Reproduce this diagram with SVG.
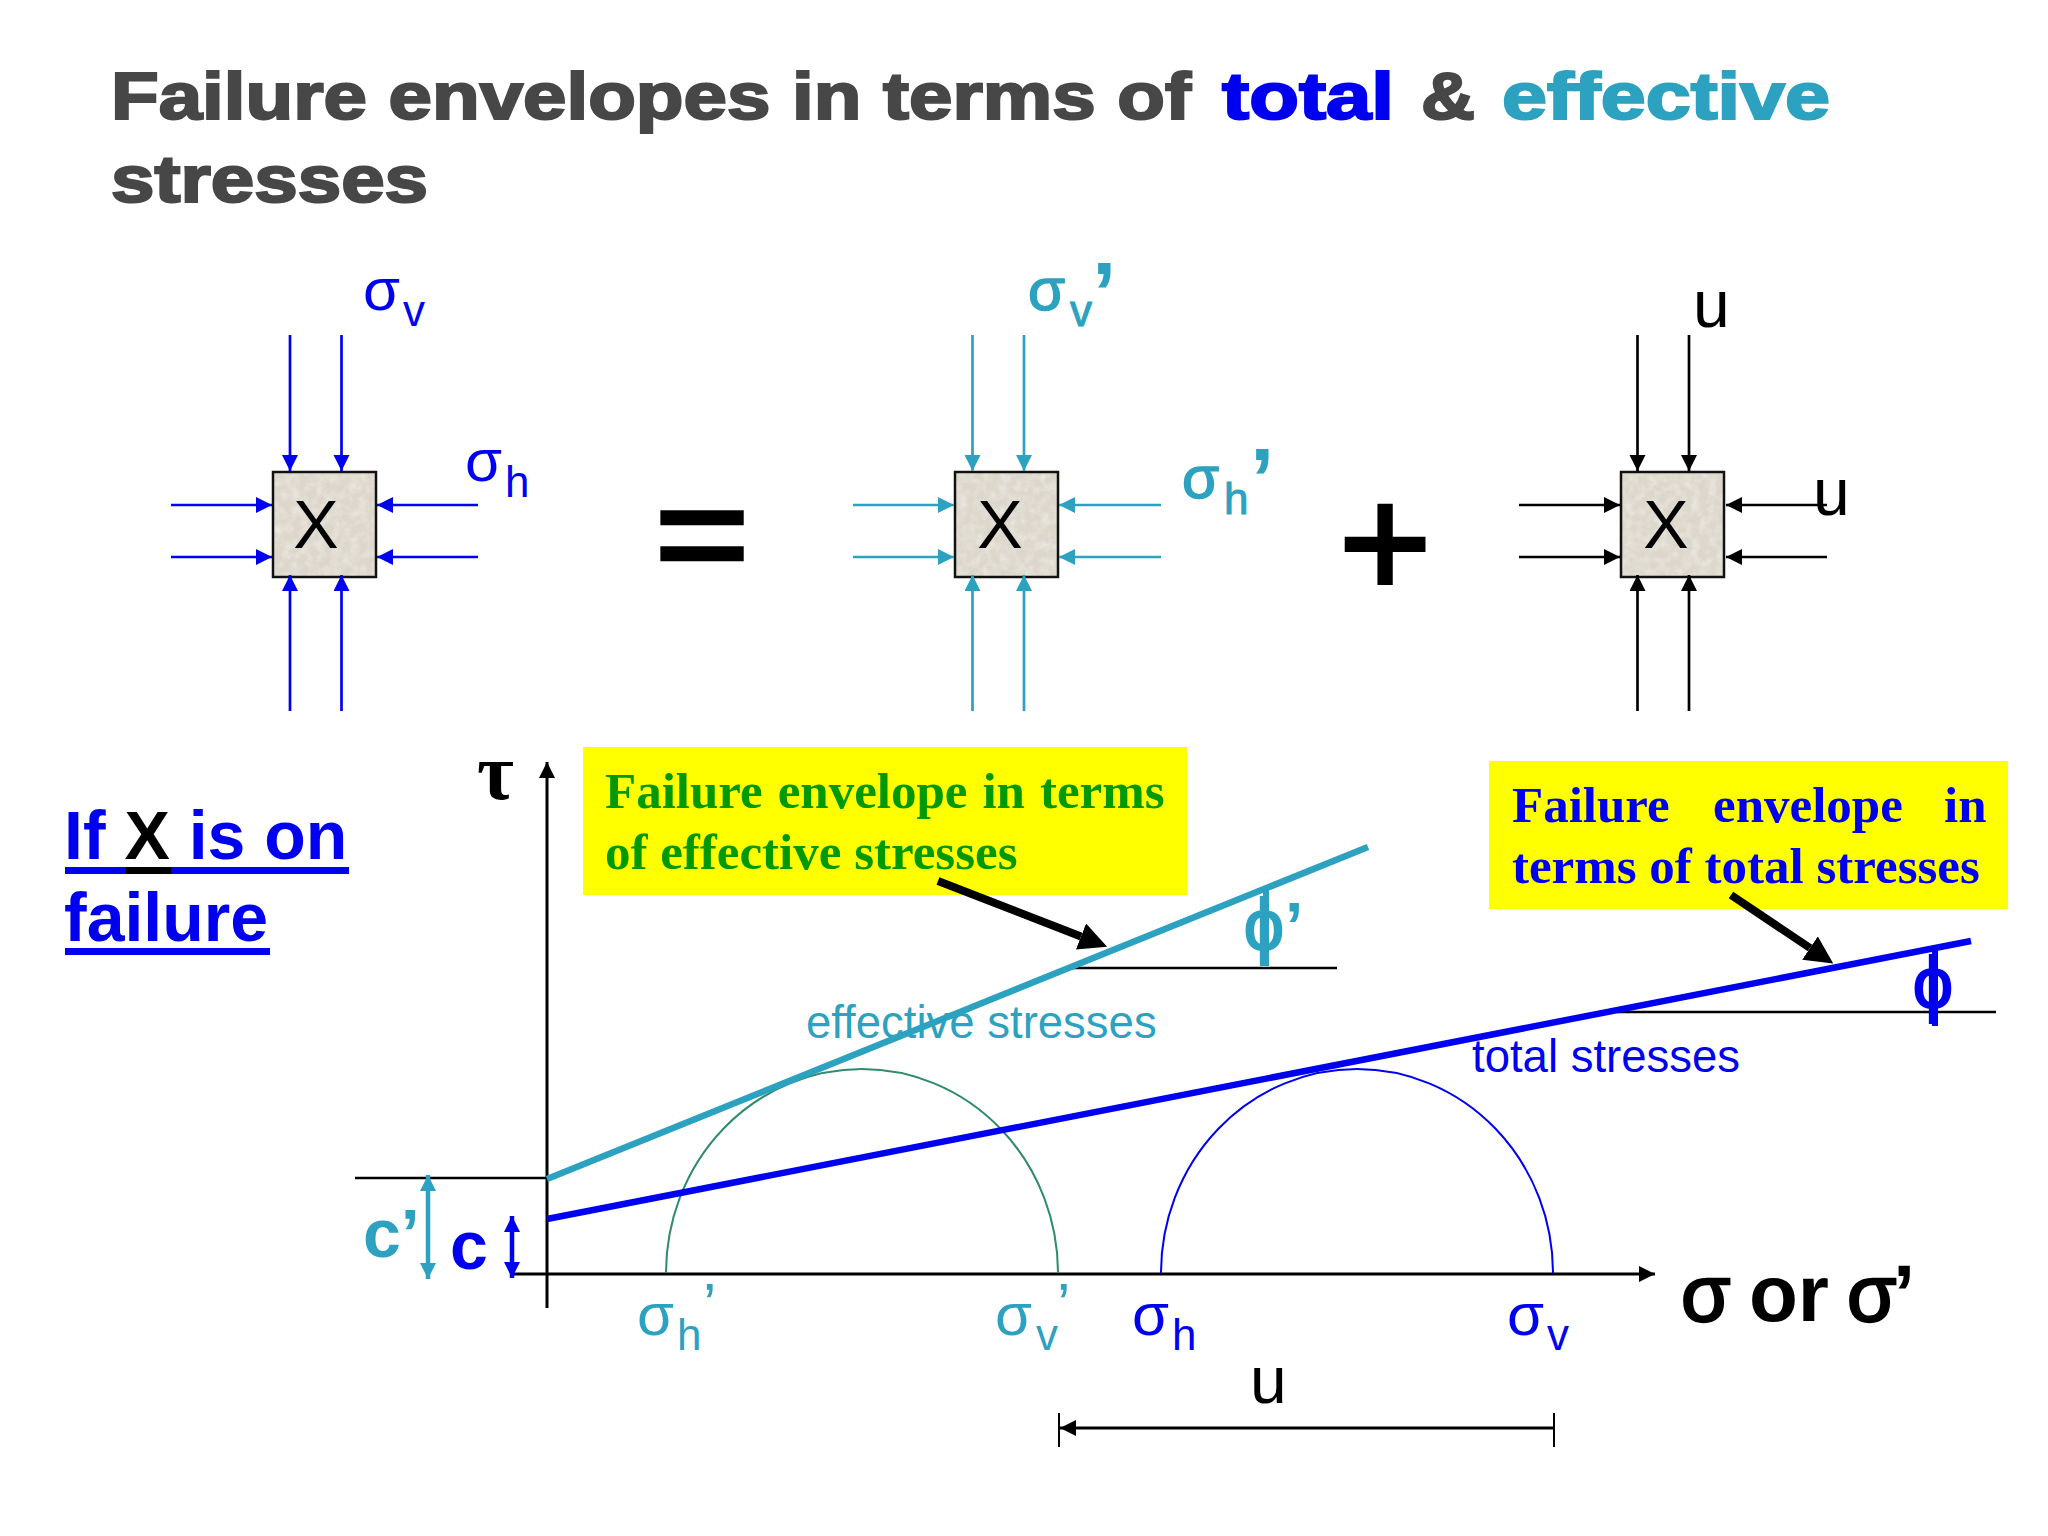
<svg xmlns="http://www.w3.org/2000/svg" width="2048" height="1536" viewBox="0 0 2048 1536">
<defs>
<style>
text{font-family:"Liberation Sans",Arial,sans-serif}
.title{font-size:66px;font-weight:700;stroke-width:2.2px;paint-order:stroke}
.gr{fill:#474747;stroke:#474747}.bl{fill:#0000f0}.te{fill:#2ca2c0}.bk{fill:#000}
.tb{stroke:#0000f0}.tt{stroke:#2ca2c0}
.sg{font-size:60px}.sb{font-size:44px}.pr{font-size:88px;font-weight:700}.pt{font-size:60px}
.x{font-size:68px;text-anchor:middle}
.u{font-size:66px}
.big{font-size:68px;font-weight:700}
.lbl{font-size:45.500px}
.cap{font-family:"Liberation Serif","Times New Roman",serif;font-size:51px;font-weight:700}
.blue{stroke:#0000f0;fill:none}.teal{stroke:#2ca2c0;fill:none}.black{stroke:#000;fill:none}
.a3{stroke-width:2.7px}
.fill{fill:#dcd7ca}
.box{fill:none;stroke:#111;stroke-width:2.5px}
</style>
<marker id="hb" markerUnits="userSpaceOnUse" markerWidth="18" markerHeight="18" refX="16" refY="8" orient="auto-start-reverse"><path d="M0 0L16 8L0 16Z" fill="#0000f0"/></marker>
<marker id="ht" markerUnits="userSpaceOnUse" markerWidth="18" markerHeight="18" refX="16" refY="8" orient="auto-start-reverse"><path d="M0 0L16 8L0 16Z" fill="#2ca2c0"/></marker>
<marker id="hk" markerUnits="userSpaceOnUse" markerWidth="18" markerHeight="18" refX="16" refY="8" orient="auto-start-reverse"><path d="M0 0L16 8L0 16Z" fill="#000"/></marker>
<marker id="hp" markerUnits="userSpaceOnUse" markerWidth="30" markerHeight="30" refX="0" refY="14" orient="auto"><path d="M0 0L28 14L0 28Z" fill="#000"/></marker>
<filter id="grain" x="0" y="0" width="1" height="1"><feTurbulence type="fractalNoise" baseFrequency="0.12" numOctaves="3" seed="4"/><feColorMatrix values="0 0 0 0 1  0 0 0 0 1  0 0 0 0 1  0.7 0 0 0 -0.25"/><feComposite in2="SourceGraphic" operator="in"/><feMerge><feMergeNode in="SourceGraphic"/><feMergeNode/></feMerge></filter>
</defs>
<rect width="2048" height="1536" fill="#fff"/>
<g id="title">
<text class="title gr" x="111" y="119" textLength="1080" lengthAdjust="spacingAndGlyphs">Failure envelopes in terms of</text>
<text class="title bl tb" x="1222" y="119" textLength="172" lengthAdjust="spacingAndGlyphs">total</text>
<text class="title gr" x="1421" y="119" textLength="54" lengthAdjust="spacingAndGlyphs">&amp;</text>
<text class="title te tt" x="1502" y="119" textLength="328" lengthAdjust="spacingAndGlyphs">effective</text>
<text class="title gr" x="111" y="202" textLength="317" lengthAdjust="spacingAndGlyphs">stresses</text>
</g>
<g id="element-total">
<rect class="fill" filter="url(#grain)" x="273" y="472" width="103" height="105"/><rect class="box" x="273" y="472" width="103" height="105"/>
<text class="x" x="316" y="548">X</text>
<g class="blue a3">
<line x1="290" y1="335" x2="290" y2="471" marker-end="url(#hb)"/><line x1="341.500" y1="335" x2="341.500" y2="471" marker-end="url(#hb)"/>
<line x1="290" y1="711" x2="290" y2="575" marker-end="url(#hb)"/><line x1="341.500" y1="711" x2="341.500" y2="575" marker-end="url(#hb)"/>
<line x1="171" y1="505" x2="272" y2="505" marker-end="url(#hb)"/><line x1="171" y1="557" x2="272" y2="557" marker-end="url(#hb)"/>
<line x1="478" y1="505" x2="377" y2="505" marker-end="url(#hb)"/><line x1="478" y1="557" x2="377" y2="557" marker-end="url(#hb)"/>
</g>
<text class="sg bl" x="363" y="310">σ</text><text class="sb bl" x="403" y="326">v</text>
<text class="sg bl" x="465" y="481">σ</text><text class="sb bl" x="505" y="497">h</text>
</g>
<text id="equals" class="bk" stroke="#000" stroke-width="4.500" transform="translate(655,583) scale(1.120,1)" x="0" y="0" font-size="144">=</text>
<g id="element-effective">
<rect class="fill" filter="url(#grain)" x="955" y="472" width="103" height="105"/><rect class="box" x="955" y="472" width="103" height="105"/>
<text class="x" x="1000" y="548">X</text>
<g class="teal a3">
<line x1="972.500" y1="335" x2="972.500" y2="471" marker-end="url(#ht)"/><line x1="1024" y1="335" x2="1024" y2="471" marker-end="url(#ht)"/>
<line x1="972.500" y1="711" x2="972.500" y2="575" marker-end="url(#ht)"/><line x1="1024" y1="711" x2="1024" y2="575" marker-end="url(#ht)"/>
<line x1="853" y1="505" x2="954" y2="505" marker-end="url(#ht)"/><line x1="853" y1="557" x2="954" y2="557" marker-end="url(#ht)"/>
<line x1="1161" y1="505" x2="1059" y2="505" marker-end="url(#ht)"/><line x1="1161" y1="557" x2="1059" y2="557" marker-end="url(#ht)"/>
</g>
<text class="sg te tt" stroke-width="1.5" x="1028" y="310">σ</text><text class="sb te tt" stroke-width="1" x="1070" y="326">v</text><text class="pr te" x="1092" y="323">’</text>
<text class="sg te tt" stroke-width="1.5" x="1182" y="498">σ</text><text class="sb te tt" stroke-width="1" x="1224" y="514">h</text><text class="pr te" x="1250" y="509">’</text>
</g>
<text id="plus" class="bk" stroke="#000" stroke-width="4" x="1339" y="597" font-size="158">+</text>
<g id="element-pore">
<rect class="fill" filter="url(#grain)" x="1621" y="472" width="103" height="105"/><rect class="box" x="1621" y="472" width="103" height="105"/>
<text class="x" x="1666" y="548">X</text>
<g class="black a3">
<line x1="1637.500" y1="335" x2="1637.500" y2="471" marker-end="url(#hk)"/><line x1="1689" y1="335" x2="1689" y2="471" marker-end="url(#hk)"/>
<line x1="1637.500" y1="711" x2="1637.500" y2="575" marker-end="url(#hk)"/><line x1="1689" y1="711" x2="1689" y2="575" marker-end="url(#hk)"/>
<line x1="1519" y1="505" x2="1620" y2="505" marker-end="url(#hk)"/><line x1="1519" y1="557" x2="1620" y2="557" marker-end="url(#hk)"/>
<line x1="1827" y1="505" x2="1726" y2="505" marker-end="url(#hk)"/><line x1="1827" y1="557" x2="1726" y2="557" marker-end="url(#hk)"/>
</g>
<text class="u" x="1693" y="327">u</text>
<text class="u" x="1813" y="515">u</text>
</g>
<g id="if-x">
<text class="big bl" x="64" y="858.500">If <tspan class="bk">X</tspan> is on</text>
<text class="big bl" x="64" y="941">failure</text>
<rect x="65" y="867" width="284" height="7" fill="#0000f0"/><rect x="126" y="867" width="45" height="7" fill="#000"/>
<rect x="65" y="948" width="205" height="7" fill="#0000f0"/>
</g>
<g id="connectors">
<line class="black" stroke-width="3" x1="547" y1="1308" x2="547" y2="762" marker-end="url(#hk)"/>
<line class="black" stroke-width="3" x1="512" y1="1274" x2="1655" y2="1274" marker-end="url(#hk)"/>
<line class="black" stroke-width="2.5" x1="355" y1="1178" x2="547" y2="1178"/>
<line class="teal" stroke-width="4.500" x1="428" y1="1175" x2="428" y2="1279" marker-start="url(#ht)" marker-end="url(#ht)"/>
<line class="blue" stroke-width="4.500" x1="512" y1="1216" x2="512" y2="1278" marker-start="url(#hb)" marker-end="url(#hb)"/>
<path d="M666 1273A196 204 0 0 1 1058 1273" fill="none" stroke="#2e8b6e" stroke-width="2"/>
<path d="M1161 1273A196 204 0 0 1 1553 1273" fill="none" stroke="#0000f0" stroke-width="2"/>
<line class="black" stroke-width="2.500" x1="1069" y1="968" x2="1337" y2="968"/>
<line class="black" stroke-width="2.500" x1="1617" y1="1012" x2="1996" y2="1012"/>
<line class="teal" stroke-width="6.500" x1="547" y1="1179" x2="1368" y2="847"/>
<line class="blue" stroke-width="6.500" x1="547" y1="1219" x2="1971" y2="941"/>
<line class="teal" stroke-width="6" x1="1266" y1="890" x2="1266" y2="966"/>
<line class="blue" stroke-width="6" x1="1935" y1="950" x2="1935" y2="1026"/>
<line class="black" stroke-width="2" x1="1059" y1="1413" x2="1059" y2="1447"/>
<line class="black" stroke-width="2" x1="1554" y1="1413" x2="1554" y2="1447"/>
<line class="black" stroke-width="3" x1="1554" y1="1428" x2="1060" y2="1428" marker-end="url(#hk)"/>
</g>
<g id="axis-labels">
<text x="477" y="799" font-size="80" font-weight="700" style="font-family:'Liberation Serif',serif">τ</text>
<text class="big te" x="363" y="1257">c’</text>
<text class="big bl" x="450" y="1269">c</text>
<text class="te" stroke="#2ca2c0" stroke-width="2" x="1264" y="950" font-size="72" text-anchor="middle">ϕ</text>
<text class="te" x="1285" y="949" font-size="66" font-weight="700">’</text>
<text class="bl" stroke="#0000f0" stroke-width="2" x="1933" y="1008" font-size="72" text-anchor="middle">ϕ</text>
<text class="lbl te" x="806" y="1038">effective stresses</text>
<text class="lbl bl" x="1472" y="1072">total stresses</text>
<text class="sg te" x="637" y="1335">σ</text><text class="sb te" x="677" y="1350">h</text><text class="pt te" x="703" y="1325">’</text>
<text class="sg te" x="995" y="1335">σ</text><text class="sb te" x="1036" y="1350">v</text><text class="pt te" x="1057" y="1325">’</text>
<text class="sg bl" x="1132" y="1335">σ</text><text class="sb bl" x="1172" y="1350">h</text>
<text class="sg bl" x="1507" y="1335">σ</text><text class="sb bl" x="1547" y="1350">v</text>
<text x="1681" y="1321" font-size="80" stroke="#000" stroke-width="2.500">σ</text>
<text x="1749" y="1321" font-size="80" font-weight="700">or</text>
<text x="1847" y="1321" font-size="80" stroke="#000" stroke-width="2.500">σ</text>
<text x="1893" y="1321" font-size="80" font-weight="700">’</text>
<text class="u" x="1250" y="1403">u</text>
</g>
<g id="callout-effective">
<rect x="583" y="747" width="604" height="148" fill="#ffff00"/>
<text class="cap" fill="#009900" x="605" y="808" word-spacing="2.200">Failure envelope in terms</text>
<text class="cap" fill="#009900" x="605" y="869">of effective stresses</text>
<line stroke="#000" stroke-width="8" x1="938" y1="881" x2="1081" y2="936.500" marker-end="url(#hp)"/>
</g>
<g id="callout-total">
<rect x="1489" y="761" width="519" height="148" fill="#ffff00"/>
<text class="cap" fill="#0000f0" x="1512" y="822">Failure<tspan x="1713">envelope</tspan><tspan x="1944">in</tspan></text>
<text class="cap" fill="#0000f0" x="1512" y="883">terms of total stresses</text>
<line stroke="#000" stroke-width="8" x1="1731" y1="895" x2="1810" y2="948" marker-end="url(#hp)"/>
</g>
</svg>
